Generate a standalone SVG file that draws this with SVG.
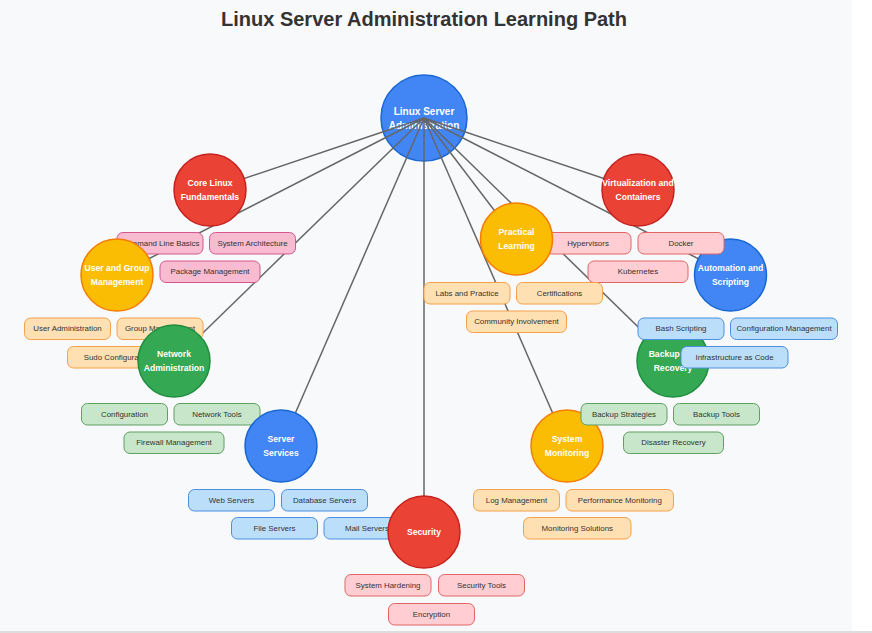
<svg xmlns="http://www.w3.org/2000/svg" width="872" height="633" viewBox="0 0 872 633">
<style>
.title{font-family:"Liberation Sans",Arial,sans-serif;font-size:20px;font-weight:bold;fill:#333;text-anchor:middle}
.link{stroke:#666;stroke-width:1.5;fill:none}
.cat{stroke-width:1.5}
.ctext{font-family:"Liberation Sans",Arial,sans-serif;font-size:8.6px;font-weight:bold;fill:#fff;text-anchor:middle;dominant-baseline:central}
.mtext{font-family:"Liberation Sans",Arial,sans-serif;font-size:10px;font-weight:bold;fill:#fff;text-anchor:middle;dominant-baseline:central}
.btext{font-family:"Liberation Sans",Arial,sans-serif;font-size:7.9px;fill:#333;text-anchor:middle;dominant-baseline:central}
.red{fill:#ea4335;stroke:#c5221f}
.yellow{fill:#fbbc04;stroke:#f57c00}
.green{fill:#34a853;stroke:#1e8e3e}
.blue{fill:#4285f4;stroke:#1967d2}
.b-pink{fill:#f8bbd0;stroke:#d4578f;stroke-width:1}
.b-orange{fill:#ffe0b2;stroke:#f5a04a;stroke-width:1}
.b-green{fill:#c8e6c9;stroke:#5e9f62;stroke-width:1}
.b-blue{fill:#bbdefb;stroke:#4a8fe0;stroke-width:1}
.b-red{fill:#ffcdd2;stroke:#e06666;stroke-width:1}
</style>
<rect x="0" y="0" width="872" height="633" fill="#ffffff"/>
<rect x="0" y="0" width="852" height="631" fill="#f8f9fa"/>
<rect x="0" y="631" width="872" height="2" fill="#dddddd"/>
<text class="title" x="424" y="26">Linux Server Administration Learning Path</text>

<g id="node-center">
<circle class="cat blue" cx="424" cy="118" r="43" stroke-width="2"/>
<text class="mtext" x="424" y="111">Linux Server</text>
<text class="mtext" x="424" y="125">Administration</text>
</g>

<g id="connectors">
<line class="link" x1="424" y1="118" x2="210" y2="190"/>
<line class="link" x1="424" y1="118" x2="117" y2="275"/>
<line class="link" x1="424" y1="118" x2="174" y2="361"/>
<line class="link" x1="424" y1="118" x2="281" y2="446"/>
<line class="link" x1="424" y1="118" x2="424" y2="532"/>
<line class="link" x1="424" y1="118" x2="567" y2="446"/>
<line class="link" x1="424" y1="118" x2="673" y2="361"/>
<line class="link" x1="424" y1="118" x2="730" y2="275"/>
<line class="link" x1="424" y1="118" x2="638" y2="190"/>
<line class="link" x1="424" y1="118" x2="516" y2="239"/>
</g>

<g id="node-core">
<circle class="cat red" cx="210" cy="190" r="36"/>
<text class="ctext" x="210" y="183">Core Linux</text>
<text class="ctext" x="210" y="197">Fundamentals</text>
<g id="core-subtopics">
<rect class="b-pink" x="117" y="232.5" width="86" height="21.5" rx="6"/>
<text class="btext" x="160" y="243.3">Command Line Basics</text>
<rect class="b-pink" x="209.5" y="232.5" width="86" height="21.5" rx="6"/>
<text class="btext" x="252.5" y="243.3">System Architecture</text>
<rect class="b-pink" x="160" y="261" width="100" height="21.5" rx="6"/>
<text class="btext" x="210" y="271.8">Package Management</text>
</g>
</g>

<g id="node-user">
<circle class="cat yellow" cx="117" cy="275" r="36"/>
<text class="ctext" x="117" y="268">User and Group</text>
<text class="ctext" x="117" y="282">Management</text>
<g id="user-subtopics">
<rect class="b-orange" x="24.5" y="318" width="86" height="21.5" rx="6"/>
<text class="btext" x="67.5" y="328.8">User Administration</text>
<rect class="b-orange" x="117" y="318" width="86" height="21.5" rx="6"/>
<text class="btext" x="160" y="328.8">Group Management</text>
<rect class="b-orange" x="67.5" y="346.5" width="100" height="21.5" rx="6"/>
<text class="btext" x="117.5" y="357.3">Sudo Configuration</text>
</g>
</g>

<g id="node-network">
<circle class="cat green" cx="174" cy="361" r="36"/>
<text class="ctext" x="174" y="354">Network</text>
<text class="ctext" x="174" y="368">Administration</text>
<g id="network-subtopics">
<rect class="b-green" x="81.5" y="403.5" width="86" height="21.5" rx="6"/>
<text class="btext" x="124.5" y="414.3">Configuration</text>
<rect class="b-green" x="174" y="403.5" width="86" height="21.5" rx="6"/>
<text class="btext" x="217" y="414.3">Network Tools</text>
<rect class="b-green" x="124" y="432" width="100" height="21.5" rx="6"/>
<text class="btext" x="174" y="442.8">Firewall Management</text>
</g>
</g>

<g id="node-server">
<circle class="cat blue" cx="281" cy="446" r="36"/>
<text class="ctext" x="281" y="439">Server</text>
<text class="ctext" x="281" y="453">Services</text>
<g id="server-subtopics">
<rect class="b-blue" x="188.5" y="489.5" width="86" height="21.5" rx="6"/>
<text class="btext" x="231.5" y="500.3">Web Servers</text>
<rect class="b-blue" x="281.5" y="489.5" width="86" height="21.5" rx="6"/>
<text class="btext" x="324.5" y="500.3">Database Servers</text>
<rect class="b-blue" x="231.5" y="517.5" width="86" height="21.5" rx="6"/>
<text class="btext" x="274.5" y="528.3">File Servers</text>
<rect class="b-blue" x="324" y="517.5" width="86" height="21.5" rx="6"/>
<text class="btext" x="367" y="528.3">Mail Servers</text>
</g>
</g>

<g id="node-security">
<circle class="cat red" cx="424" cy="532" r="36"/>
<text class="ctext" x="424" y="532">Security</text>
<g id="security-subtopics">
<rect class="b-red" x="345" y="574.5" width="86" height="21.5" rx="6"/>
<text class="btext" x="388" y="585.3">System Hardening</text>
<rect class="b-red" x="438.5" y="574.5" width="86" height="21.5" rx="6"/>
<text class="btext" x="481.5" y="585.3">Security Tools</text>
<rect class="b-red" x="388.5" y="603.5" width="86" height="21.5" rx="6"/>
<text class="btext" x="431.5" y="614.3">Encryption</text>
</g>
</g>

<g id="node-monitoring">
<circle class="cat yellow" cx="567" cy="446" r="36"/>
<text class="ctext" x="567" y="439">System</text>
<text class="ctext" x="567" y="453">Monitoring</text>
<g id="monitoring-subtopics">
<rect class="b-orange" x="473.5" y="489.5" width="86" height="21.5" rx="6"/>
<text class="btext" x="516.5" y="500.3">Log Management</text>
<rect class="b-orange" x="566" y="489.5" width="107.5" height="21.5" rx="6"/>
<text class="btext" x="619.8" y="500.3">Performance Monitoring</text>
<rect class="b-orange" x="523.5" y="517.5" width="107.5" height="21.5" rx="6"/>
<text class="btext" x="577.3" y="528.3">Monitoring Solutions</text>
</g>
</g>

<g id="node-backup">
<circle class="cat green" cx="673" cy="361" r="36"/>
<text class="ctext" x="673" y="354">Backup and</text>
<text class="ctext" x="673" y="368">Recovery</text>
<g id="backup-subtopics">
<rect class="b-green" x="581" y="403.5" width="86" height="21.5" rx="6"/>
<text class="btext" x="624" y="414.3">Backup Strategies</text>
<rect class="b-green" x="673.5" y="403.5" width="86" height="21.5" rx="6"/>
<text class="btext" x="716.5" y="414.3">Backup Tools</text>
<rect class="b-green" x="623.5" y="432" width="100" height="21.5" rx="6"/>
<text class="btext" x="673.5" y="442.8">Disaster Recovery</text>
</g>
</g>

<g id="node-automation">
<circle class="cat blue" cx="730.5" cy="275" r="36"/>
<text class="ctext" x="730.5" y="268">Automation and</text>
<text class="ctext" x="730.5" y="282">Scripting</text>
<g id="automation-subtopics">
<rect class="b-blue" x="638" y="318" width="86" height="21.5" rx="6"/>
<text class="btext" x="681" y="328.8">Bash Scripting</text>
<rect class="b-blue" x="730.5" y="318" width="107" height="21.5" rx="6"/>
<text class="btext" x="784" y="328.8">Configuration Management</text>
<rect class="b-blue" x="681" y="346.5" width="107" height="21.5" rx="6"/>
<text class="btext" x="734.5" y="357.3">Infrastructure as Code</text>
</g>
</g>

<g id="node-virtualization">
<circle class="cat red" cx="638" cy="190" r="36"/>
<text class="ctext" x="638" y="183">Virtualization and</text>
<text class="ctext" x="638" y="197">Containers</text>
<g id="virtualization-subtopics">
<rect class="b-red" x="545" y="232.5" width="86" height="21.5" rx="6"/>
<text class="btext" x="588" y="243.3">Hypervisors</text>
<rect class="b-red" x="638" y="232.5" width="86" height="21.5" rx="6"/>
<text class="btext" x="681" y="243.3">Docker</text>
<rect class="b-red" x="588" y="261" width="100" height="21.5" rx="6"/>
<text class="btext" x="638" y="271.8">Kubernetes</text>
</g>
</g>

<g id="node-practical">
<circle class="cat yellow" cx="516.5" cy="239" r="36"/>
<text class="ctext" x="516.5" y="232">Practical</text>
<text class="ctext" x="516.5" y="246">Learning</text>
<g id="practical-subtopics">
<rect class="b-orange" x="424" y="282.5" width="86" height="21.5" rx="6"/>
<text class="btext" x="467" y="293.3">Labs and Practice</text>
<rect class="b-orange" x="516.5" y="282.5" width="86" height="21.5" rx="6"/>
<text class="btext" x="559.5" y="293.3">Certifications</text>
<rect class="b-orange" x="466.5" y="311" width="100" height="21.5" rx="6"/>
<text class="btext" x="516.5" y="321.8">Community Involvement</text>
</g>
</g>
</svg>
